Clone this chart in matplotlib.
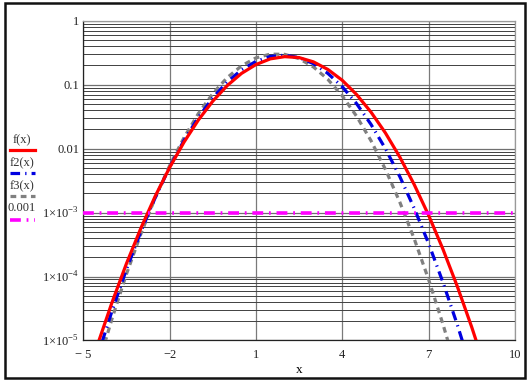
import matplotlib.pyplot as plt
from matplotlib.patches import Rectangle
from matplotlib.ticker import FixedLocator, NullFormatter

# values (log-scale y)
x_vals = [-5.0, -4.5, -4.0, -3.5, -3.0, -2.5, -2.0, -1.5, -1.0, -0.5, 0.0, 0.5,
          1.0, 1.5, 2.0, 2.5, 3.0, 3.5, 4.0, 4.5, 5.0, 5.5, 6.0, 6.5, 7.0, 7.5,
          8.0, 8.5, 9.0]
f_vals = [1.71e-6, 8.7e-6, 3.95e-5, 1.59e-4, 5.67e-4, 1.80e-3, 5.05e-3, 1.26e-2,
          2.80e-2, 5.51e-2, 9.64e-2, 0.150, 0.206, 0.253, 0.274, 0.265, 0.227,
          0.173, 0.117, 6.99e-2, 3.72e-2, 1.76e-2, 7.39e-3, 2.75e-3, 9.12e-4,
          2.68e-4, 6.99e-5, 1.62e-5, 3.33e-6]
f2_vals = [1.0e-6, 5.77e-6, 2.91e-5, 1.29e-4, 5.02e-4, 1.71e-3, 5.12e-3, 1.34e-2,
           3.08e-2, 6.21e-2, 0.110, 0.170, 0.231, 0.276, 0.2886, 0.265, 0.213,
           0.150, 9.28e-2, 5.04e-2, 2.39e-2, 9.99e-3, 3.66e-3, 1.17e-3, 3.30e-4,
           8.13e-5, 1.76e-5, 3.34e-6, 5.0e-7]
f3_vals = [5.9e-7, 3.87e-6, 2.20e-5, 1.09e-4, 4.62e-4, 1.70e-3, 5.40e-3, 1.48e-2,
           3.53e-2, 7.24e-2, 0.1286, 0.197, 0.262, 0.300, 0.2976, 0.255, 0.189,
           0.121, 6.70e-2, 3.20e-2, 1.33e-2, 4.74e-3, 1.46e-3, 3.91e-4, 9.03e-5,
           1.80e-5, 3.11e-6, 4.0e-7, 4.0e-8]
level = 0.001

x_ticks = [-5, -2, 1, 4, 7, 10]
x_tick_labels = ["\u2212 5", "\u22122", "1", "4", "7", "10"]
y_ticks = [1, 0.1, 0.01, 1e-3, 1e-4, 1e-5]
y_tick_labels = ["1", "0.1", "0.01", "1\u00d710$^{\\mathregular{-3}}$",
                 "1\u00d710$^{\\mathregular{-4}}$", "1\u00d710$^{\\mathregular{-5}}$"]
legend_labels = ["f(x)", "f2(x)", "f3(x)", "0.001"]

plt.rcParams["font.family"] = "Liberation Serif"
plt.rcParams["mathtext.fontset"] = "custom"
plt.rcParams["mathtext.rm"] = "Liberation Serif"

fig = plt.figure(figsize=(5.27, 3.81), dpi=100)
ax = fig.add_axes([0.158, 0.1063, 0.819, 0.8394])

red = "#ff0000"
blue = "#0000e0"
gray = "#808080"
magenta = "#ff00ff"
styles = [
    dict(color=red, lw=2.3, ls="-"),
    dict(color=blue, lw=2.3, ls=(0, (3, 1.6, 0.4, 1.6))),
    dict(color=gray, lw=2.3, ls=(0, (1.8, 1.4))),
    dict(color=magenta, lw=2.6, ls=(0, (3, 1.6, 0.5, 1.6))),
]

ax.plot(x_vals, f_vals, zorder=5, **styles[0])
ax.plot(x_vals, f2_vals, zorder=4, **styles[1])
ax.plot(x_vals, f3_vals, zorder=3, **styles[2])
ax.axhline(level, zorder=6, **styles[3])

ax.set_yscale("log")
ax.set_xlim(-5, 10)
ax.set_ylim(1e-5, 1)

ax.xaxis.set_major_locator(FixedLocator(x_ticks))
ax.set_xticklabels(x_tick_labels)
ax.yaxis.set_major_locator(FixedLocator(y_ticks))
ax.set_yticklabels(y_tick_labels)
minor_y = [m * 10.0 ** e for e in range(-5, 0) for m in range(2, 10)]
ax.yaxis.set_minor_locator(FixedLocator(minor_y))
ax.yaxis.set_minor_formatter(NullFormatter())

ax.tick_params(which="both", length=0, labelsize=9, colors="#222222")
ax.tick_params(axis="x", pad=6)
ax.tick_params(axis="y", pad=3)

ax.grid(axis="x", which="major", color="#7a7a7a", lw=0.9)
ax.grid(axis="y", which="major", color="#707070", lw=0.9)
ax.grid(axis="y", which="minor", color="#404040", lw=0.7)
ax.set_axisbelow(True)

ax.spines["left"].set_color("#222222")
ax.spines["bottom"].set_color("#222222")
ax.spines["right"].set_color("#999999")
ax.spines["top"].set_color("#999999")
for s in ax.spines.values():
    s.set_linewidth(0.9)

ax.set_xlabel("x", fontsize=9.5, labelpad=2)

# legend on the left, Mathcad style
text_y = [140, 163, 186, 208]
line_y = [150, 173, 196, 220]
H = 381.0
for lab, ty, ly, st in zip(legend_labels, text_y, line_y, styles):
    fig.text(22 / 527, 1 - ty / H, lab, ha="center", va="center", fontsize=9,
             color="#333333")
    fig.add_artist(plt.Line2D([10 / 527, 35 / 527], [1 - ly / H, 1 - ly / H],
                              transform=fig.transFigure, **st))

# outer frame
fig.add_artist(Rectangle((4.5 / 527, 3 / H), 520 / 527, 375 / H,
                         transform=fig.transFigure, fill=False,
                         edgecolor="#111111", lw=1.8))

fig.savefig("out.png", dpi=100)
